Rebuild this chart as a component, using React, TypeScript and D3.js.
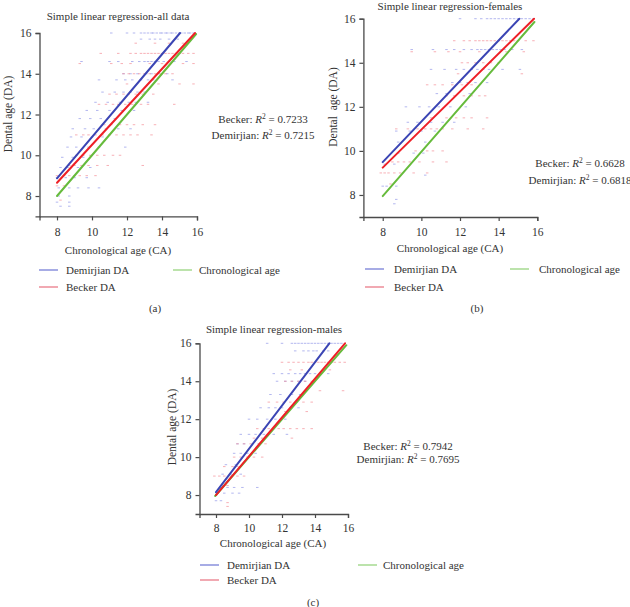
import React from "react";
import * as d3 from "d3";

// each row: [dental age, list of chronological ages recorded at that dental age]
type Row = [number, number[]];

const ageTicks = [8, 10, 12, 14, 16];

const demirjianAll: Row[] = [
  [16, [11.1, 12.0, 12.4, 12.8, 13.0, 13.2, 13.4, 13.5, 13.7, 13.9, 14.0, 14.2, 14.3, 14.5, 14.6, 14.8, 15.0, 15.1, 15.3, 15.5, 15.6, 15.8]],
  [15.7, [12.8, 13.3, 13.6, 13.9, 14.4, 14.9]],
  [14.6, [9.4, 11.0, 11.5, 12.3, 12.7, 13.0, 13.2, 13.4, 13.6, 13.8, 14.1, 14.4, 14.7, 15.4]],
  [14.0, [11.8, 12.2, 12.6, 13.1, 13.4, 13.8, 14.3]],
  [13.7, [10.4, 11.4, 11.9, 12.3, 12.8, 13.2, 13.5, 14.6]],
  [13.1, [10.6, 11.3, 11.8, 12.2, 12.6, 13.0]],
  [12.6, [10.2, 10.9, 11.6, 12.1, 12.5, 13.2]],
  [12.2, [9.7, 10.3, 11.0, 11.7, 12.4]],
  [11.8, [9.3, 9.9, 10.5, 11.3]],
  [11.3, [8.9, 9.6, 10.1, 10.8, 11.5, 12.2]],
  [10.9, [8.8, 9.4, 10.0, 10.6]],
  [10.4, [8.6, 9.1, 9.8, 10.4, 11.9]],
  [9.9, [8.3, 8.9, 9.5]],
  [9.4, [8.2, 8.6, 9.2, 9.9]],
  [8.9, [8.0, 8.5, 9.0, 9.7]],
  [8.4, [8.1, 8.7, 9.2, 9.8, 10.4]],
  [8.0, [8.1, 8.7]],
  [7.7, [8.0, 8.7]],
  [7.5, [8.2, 8.7]],
];

const beckerAll: Row[] = [
  [15.5, [12.5, 13.6, 14.4, 15.2]],
  [15.0, [10.5, 11.5, 12.2, 12.5, 12.8, 13.0, 13.2, 13.4, 13.6, 13.8, 14.0, 14.2, 14.4, 14.6, 14.8, 15.0, 15.2, 15.5, 15.8]],
  [14.5, [9.3, 11.1, 11.7, 12.2, 13.3, 14.0, 15.2, 15.8]],
  [14.0, [11.8, 12.1, 12.4, 12.7, 13.0, 13.3, 13.6, 13.9, 14.2, 14.6]],
  [13.5, [12.0, 13.8, 15.0, 15.8]],
  [13.0, [11.0, 11.4, 11.8, 12.1, 12.5, 12.9, 13.5]],
  [12.5, [10.4, 10.8, 11.2, 11.5, 11.9, 12.3, 12.8, 13.2, 14.7]],
  [11.5, [10.7, 11.1, 11.6, 12.0, 12.4, 12.9, 13.6]],
  [11.0, [9.1, 9.5, 9.8, 10.2, 10.6, 11.0, 11.4, 11.8, 12.2, 12.6, 13.4]],
  [10.0, [9.1, 9.5, 9.9, 10.3, 10.7, 11.2, 11.6]],
  [9.5, [8.7, 9.0, 9.4, 9.8, 10.3, 10.9, 12.9]],
  [9.0, [8.0, 8.4, 8.7, 9.0, 9.3, 9.7, 10.2]],
  [8.5, [8.0, 8.4]],
  [7.8, [8.2]],
];

const demirjianFemales: Row[] = [
  [16, [12.0, 12.8, 13.1, 13.4, 13.6, 13.8, 14.0, 14.2, 14.4, 14.6, 14.8, 15.0, 15.2, 15.4, 15.6, 15.8]],
  [14.6, [9.5, 10.6, 11.3, 11.7, 12.2, 12.6, 12.9, 13.1, 13.3, 13.5, 13.7, 13.9, 14.1, 14.3, 14.7, 15.2]],
  [13.7, [10.5, 11.2, 11.8, 12.2, 12.6, 12.9, 13.2, 13.5, 14.2, 15.1]],
  [13.1, [11.6, 12.0, 12.4, 12.8, 13.4]],
  [12.6, [10.8, 11.3, 12.5]],
  [12.0, [9.2, 9.9, 10.4, 10.9, 11.5, 12.3]],
  [11.3, [9.3, 9.8, 10.5, 11.1, 11.7]],
  [10.9, [8.7, 9.4, 10.0, 10.7]],
  [10.4, [8.8, 10.2]],
  [9.9, [8.8, 9.6, 10.1]],
  [9.4, [8.1, 8.6]],
  [8.9, [10.2]],
  [8.4, [8.0, 8.2, 8.7]],
  [7.8, [8.7]],
  [7.6, [8.6]],
];

const beckerFemales: Row[] = [
  [15.0, [11.7, 12.2, 12.5, 12.8, 13.0, 13.2, 13.4, 13.6, 13.8, 14.0, 14.2, 14.4, 14.6, 14.8, 15.0, 15.4, 15.8]],
  [14.5, [9.5, 10.7, 11.4, 12.0, 13.0, 14.4, 15.3]],
  [14.0, [12.1, 12.4, 12.8, 13.2, 13.6, 14.0]],
  [13.5, [11.9, 15.2]],
  [13.0, [10.3, 10.7, 11.1, 11.6, 12.1, 12.6]],
  [12.5, [11.3, 11.7, 12.2, 12.6, 13.0, 13.3]],
  [11.5, [10.5, 11.3, 11.8, 12.2, 12.6, 13.4]],
  [11.0, [8.7, 9.3, 9.8, 10.2, 10.5, 10.8, 11.1, 11.6, 12.4, 13.2]],
  [10.0, [9.7, 10.3, 10.6, 11.1]],
  [9.5, [8.5, 8.8, 9.1, 9.4, 9.9, 10.6, 11.3]],
  [9.0, [7.9, 8.1, 8.3, 8.6, 8.9, 9.6, 10.3]],
  [8.5, [8.4]],
];

const demirjianMales: Row[] = [
  [16, [11.1, 12.0, 12.6, 12.8, 13.0, 13.2, 13.4, 13.6, 13.8, 14.0, 14.2, 14.4, 14.6, 14.8, 15.0, 15.2, 15.4, 15.6]],
  [15.6, [12.8, 13.3, 13.6, 13.9, 14.1, 14.5, 14.8]],
  [14.4, [11.5, 12.0, 12.4, 12.8, 13.1, 13.4, 13.7, 14.0, 14.3, 14.8]],
  [14.0, [11.7, 12.2, 12.6, 13.0, 13.4, 13.9]],
  [13.3, [11.3, 11.9, 12.6, 13.1]],
  [12.6, [10.7, 11.2, 11.6, 12.0, 12.5, 13.0]],
  [12.0, [10.0, 10.5, 11.1, 11.6, 12.2]],
  [11.2, [9.5, 10.0, 10.4, 10.9, 11.5, 12.3]],
  [10.7, [9.3, 9.7, 10.6]],
  [10.2, [9.1, 9.5, 9.9, 10.4]],
  [9.6, [8.6, 9.2]],
  [9.1, [8.4, 8.9, 9.5]],
  [8.4, [8.3, 8.7, 9.1, 9.6, 10.5]],
  [8.1, [8.5, 9.0, 9.4]],
  [7.7, [8.0, 8.3]],
];

const beckerMales: Row[] = [
  [15.0, [12.0, 12.4, 12.7, 13.0, 13.3, 13.6, 13.8, 14.0, 14.2, 14.4, 14.6, 14.8, 15.0, 15.2, 15.5, 15.8]],
  [14.6, [12.5, 13.2, 14.9]],
  [14.0, [12.2, 12.6, 13.0, 13.4, 13.8]],
  [13.5, [14.3, 15.7]],
  [12.9, [11.2, 11.7, 12.1, 12.5, 12.9, 13.3, 13.8]],
  [12.4, [12.2, 13.5]],
  [11.5, [10.5, 10.9, 11.2, 11.5, 11.8, 12.1, 12.5, 12.9, 13.3, 13.8]],
  [11.0, [10.3, 10.8, 12.6]],
  [10.7, [9.3, 9.7, 10.1, 10.6, 11.0]],
  [10.0, [9.1, 9.5, 9.9, 10.3, 10.8]],
  [9.5, [8.5, 9.0, 9.3]],
  [9.0, [7.9, 8.2, 8.5, 8.9, 9.3, 9.7]],
  [8.5, [8.4, 8.7]],
  [7.6, [8.7]],
  [7.4, [8.7]],
];

// fitted lines as [CA start, DA start, CA end, DA end]
const fitsAll = { demirjian: [8, 8.87, 15.03, 16], becker: [8, 8.65, 15.89, 16], identity: [8, 8, 15.95, 15.95] };
const fitsFemales = { demirjian: [8, 9.49, 15.07, 16], becker: [8, 9.24, 15.83, 16], identity: [8, 7.95, 15.85, 15.85] };
const fitsMales = { demirjian: [8, 8.15, 14.87, 16], becker: [8, 8.0, 15.82, 16], identity: [7.95, 7.95, 15.9, 15.9] };

const r2All = { becker: "0.7233", demirjian: "0.7215" };
const r2Females = { becker: "0.6628", demirjian: "0.6818" };
const r2Males = { becker: "0.7942", demirjian: "0.7695" };

const panels = [
  {
    title: "Simple linear regression-all data", caption: "(a)",
    demirjian: demirjianAll, becker: beckerAll, fits: fitsAll, r2: r2All, yLabel: "Dental age (DA)",
    x: [39.5, 197], y: [216.4, 33], titlePos: [118, 20], yLabelPos: [8, 114], xLabelPos: [118, 254],
    tickY: 236, r2Pos: [263, 123, 139], legendY: [274, 291], legendX: [39, 66, 173, 199], captionPos: [155, 312],
  },
  {
    title: "Simple linear regression-females", caption: "(b)",
    demirjian: demirjianFemales, becker: beckerFemales, fits: fitsFemales, r2: r2Females, yLabel: "Dental  age (DA)",
    x: [363.4, 537.3], y: [217, 18.7], titlePos: [450, 10], yLabelPos: [333, 107], xLabelPos: [450, 252],
    tickY: 236, r2Pos: [580, 167, 184], legendY: [273, 291], legendX: [365, 394, 510, 539], captionPos: [477, 312],
  },
  {
    title: "Simple linear regression-males", caption: "(c)",
    demirjian: demirjianMales, becker: beckerMales, fits: fitsMales, r2: r2Males, yLabel: "Dental age (DA)",
    x: [199.5, 348], y: [514, 343.3], titlePos: [274, 333], yLabelPos: [172, 427], xLabelPos: [273, 547],
    tickY: 532, r2Pos: [408, 450, 463], legendY: [569, 584], legendX: [200, 227, 358, 383], captionPos: [313, 606],
  },
];

const FONT = "'Liberation Serif', 'Times New Roman', serif";
const colors = {
  blueDot: "#8b91e6", redDot: "#f2858f",
  blueLine: "#3b45b4", redLine: "#ee2027", greenLine: "#66bb3c",
  blueKey: "#8a90dc", redKey: "#ec8c99", greenKey: "#a6da90",
};

const App = () => {
  const svgRef = React.useRef<SVGSVGElement>(null);

  React.useEffect(() => {
    const svg = d3.select(svgRef.current);
    svg.selectAll("*").remove();

    panels.forEach(p => {
      const g = svg.append("g").style("font-family", FONT);
      const xScale = d3.scaleLinear().domain([7, 16]).range(p.x);
      const yScale = d3.scaleLinear().domain([7, 16]).range(p.y);

      // scatter: tiny horizontal dashes
      const drawDots = (rows: Row[], color: string) => {
        const pts = rows.flatMap(([da, cas]) => cas.map(ca => ({ ca, da })));
        g.append("g")
          .selectAll("rect")
          .data(pts)
          .join("rect")
          .attr("x", d => xScale(d.ca) - 1.25)
          .attr("y", d => yScale(d.da) - 0.5)
          .attr("width", 2.5)
          .attr("height", 1)
          .attr("fill", color)
          .attr("opacity", 0.65);
      };
      drawDots(p.demirjian, colors.blueDot);
      drawDots(p.becker, colors.redDot);

      const line = (f: number[], color: string) => {
        g.append("line")
          .attr("x1", xScale(f[0]))
          .attr("y1", yScale(f[1]))
          .attr("x2", xScale(f[2]))
          .attr("y2", yScale(f[3]))
          .attr("stroke", color)
          .attr("stroke-width", 2)
          .attr("stroke-linecap", "round");
      };
      line(p.fits.identity, colors.greenLine);
      line(p.fits.becker, colors.redLine);
      line(p.fits.demirjian, colors.blueLine);

      // axes
      const xAxis = g.append("g")
        .attr("transform", `translate(0,${p.y[0]})`)
        .call(d3.axisBottom(xScale).tickValues(ageTicks).tickSizeOuter(0).tickSize(4).tickPadding(6));
      const yAxis = g.append("g")
        .attr("transform", `translate(${p.x[0]},0)`)
        .call(d3.axisLeft(yScale).tickValues(ageTicks).tickSizeOuter(0).tickSize(4).tickPadding(4));
      [xAxis, yAxis].forEach(ax => {
        ax.select(".domain").attr("stroke", "#4a4a4a").attr("stroke-width", 1.3);
        ax.selectAll(".tick line").attr("stroke", "#4a4a4a").attr("stroke-width", 1.2);
        ax.selectAll("text").attr("font-family", FONT).attr("font-size", 11.5).attr("fill", "#333");
      });
      xAxis.selectAll("text").attr("dy", null).attr("y", p.tickY - p.y[0]);

      g.append("text")
        .attr("x", p.titlePos[0]).attr("y", p.titlePos[1])
        .attr("text-anchor", "middle").attr("font-size", 11).attr("fill", "#333")
        .text(p.title);
      g.append("text")
        .attr("x", p.xLabelPos[0]).attr("y", p.xLabelPos[1])
        .attr("text-anchor", "middle").attr("font-size", 11).attr("fill", "#333")
        .text("Chronological age (CA)");
      g.append("text")
        .attr("transform", `translate(${p.yLabelPos[0]},${p.yLabelPos[1]}) rotate(-90)`)
        .attr("dy", "0.35em")
        .attr("text-anchor", "middle").attr("font-size", 11.5).attr("fill", "#333")
        .style("white-space", "pre")
        .text(p.yLabel);

      // R² annotations
      const r2Line = (label: string, value: string, y: number) => {
        const t = g.append("text")
          .attr("x", p.r2Pos[0]).attr("y", y)
          .attr("text-anchor", "middle").attr("font-size", 11).attr("fill", "#333");
        t.append("tspan").text(`${label}: `);
        t.append("tspan").attr("font-style", "italic").text("R");
        t.append("tspan").attr("font-size", 7.5).attr("dy", -4).text("2");
        t.append("tspan").attr("dy", 4).text(` = ${value}`);
      };
      r2Line("Becker", p.r2.becker, p.r2Pos[1]);
      r2Line("Demirjian", p.r2.demirjian, p.r2Pos[2]);

      // legend
      const keys = [
        { label: "Demirjian DA", color: colors.blueKey, lx: p.legendX[0], tx: p.legendX[1], y: p.legendY[0] },
        { label: "Becker DA", color: colors.redKey, lx: p.legendX[0], tx: p.legendX[1], y: p.legendY[1] },
        { label: "Chronological age", color: colors.greenKey, lx: p.legendX[2], tx: p.legendX[3], y: p.legendY[0] },
      ];
      keys.forEach(k => {
        g.append("line")
          .attr("x1", k.lx).attr("x2", k.lx + 19)
          .attr("y1", k.y - 4).attr("y2", k.y - 4)
          .attr("stroke", k.color).attr("stroke-width", 1.5);
        g.append("text")
          .attr("x", k.tx).attr("y", k.y)
          .attr("font-size", 11).attr("fill", "#333")
          .text(k.label);
      });

      g.append("text")
        .attr("x", p.captionPos[0]).attr("y", p.captionPos[1])
        .attr("text-anchor", "middle").attr("font-size", 11).attr("fill", "#333")
        .text(p.caption);
    });
  }, []);

  return (
    <svg
      ref={svgRef}
      width={630}
      height={607}
      style={{ position: "absolute", left: 0, top: 0, background: "#fff" }}
    />
  );
};

export default App;
